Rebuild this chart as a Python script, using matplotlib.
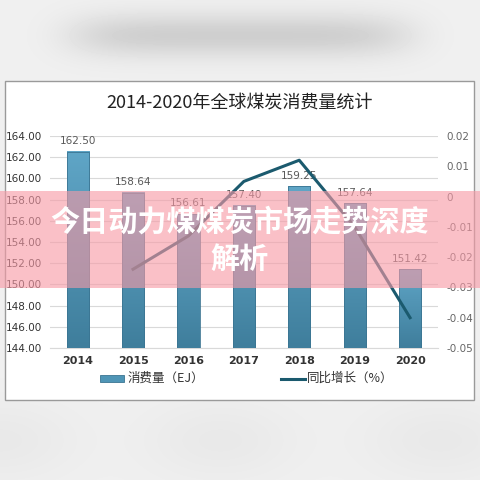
import numpy as np
import matplotlib
matplotlib.use("Agg")
import matplotlib.pyplot as plt
from matplotlib.patches import Rectangle
from matplotlib.lines import Line2D
from matplotlib.colors import LinearSegmentedColormap

plt.rcParams['font.family'] = ['Noto Sans CJK SC', 'DejaVu Sans']

years = ["2014", "2015", "2016", "2017", "2018", "2019", "2020"]
consumption = [162.50, 158.64, 156.61, 157.40, 159.25, 157.64, 151.42]
growth_years = ["2015", "2016", "2017", "2018", "2019", "2020"]
growth = [-0.024, -0.013, 0.005, 0.012, -0.010, -0.040]
left_ticks = [144, 146, 148, 150, 152, 154, 156, 158, 160, 162, 164]
right_ticks = [-0.05, -0.04, -0.03, -0.02, -0.01, 0.0, 0.01, 0.02]
right_labels = ["-0.05", "-0.04", "-0.03", "-0.02", "-0.01", "0", "0.01", "0.02"]

title = "2014-2020年全球煤炭消费量统计"
banner_lines = ["今日动力煤煤炭市场走势深度", "解析"]

fig = plt.figure(figsize=(4.8, 4.8), dpi=100)
fig.patch.set_facecolor("#efefef")

# blurred screenshot background
bg = fig.add_axes([0, 0, 1, 1])
yy, xx = np.mgrid[0:480, 0:480]
band = np.exp(-((yy - 35) / 22.0) ** 2) * np.exp(-((xx - 240) / 170.0) ** 6)
low = np.exp(-((yy - 440) / 40.0) ** 2) * 0.35 * (0.6 + 0.4 * np.cos(xx / 35.0))
img = 0.94 - 0.13 * band - 0.08 * low
bg.imshow(img, cmap="gray", vmin=0, vmax=1, extent=[0, 480, 480, 0], aspect="auto")
bg.set_xlim(0, 480); bg.set_ylim(480, 0); bg.axis("off")

# white chart card
card = fig.add_axes([0, 0, 1, 1], facecolor="none")
card.set_xlim(0, 480); card.set_ylim(480, 0); card.axis("off")
card.add_patch(Rectangle((5, 81), 469, 319, facecolor="white", edgecolor="#9a9a9a", lw=1))
card.text(240, 103, title, ha="center", va="center", fontsize=13, color="#222222")

ax = fig.add_axes([0.104, 0.275, 0.808, 0.4417])
x = np.arange(len(years))
bars = ax.bar(x, [v - 144 for v in consumption], bottom=144, width=0.4,
              color="#4f95b6", edgecolor="#3b7592", lw=0.6, zorder=3)
# vertical gradient on bars
grad = np.linspace(0, 1, 100).reshape(-1, 1)
cm = LinearSegmentedColormap.from_list("b", ["#3f7e9c", "#5fa5c6"])
for b in bars:
    bx, by = b.get_x(), b.get_y()
    ax.imshow(grad, cmap=cm, origin="lower", aspect="auto", zorder=3,
              extent=[bx, bx + b.get_width(), by, by + b.get_height()])
    b.set_facecolor("none"); b.set_zorder(4)
for xi, v in zip(x, consumption):
    ax.text(xi, v + 0.55, f"{v:.2f}", ha="center", va="bottom", fontsize=7.5,
            color="#595959", family="DejaVu Sans")
ax.set_xlim(-0.5, len(years) - 0.5)
ax.set_ylim(144, 164)
ax.set_yticks(left_ticks)
ax.set_yticklabels([f"{t:.2f}" for t in left_ticks], fontsize=7.5, color="#333333",
                   family="DejaVu Sans")
ax.set_xticks(x)
ax.set_xticklabels(years, fontsize=8, fontweight="bold", color="#333333", family="DejaVu Sans")
ax.tick_params(length=0, pad=6)
ax.grid(axis="y", color="#d9d9d9", lw=0.8, zorder=0)
for s in ax.spines.values():
    s.set_visible(False)
ax.spines["bottom"].set_visible(True); ax.spines["bottom"].set_color("#d9d9d9")

ax2 = ax.twinx()
gx = [years.index(g) for g in growth_years]
ax2.plot(gx, growth, color="#1b5a6e", lw=2.2, zorder=5)
ax2.set_ylim(-0.05, 0.02)
ax2.set_yticks(right_ticks)
ax2.set_yticklabels(right_labels, fontsize=7.5, color="#666666", family="DejaVu Sans")
ax2.tick_params(length=0, pad=6)
for s in ax2.spines.values():
    s.set_visible(False)
ax2.set_xlim(-0.5, len(years) - 0.5)

# legend
card.add_patch(Rectangle((100, 375), 24, 7, facecolor="#4f95b6", edgecolor="#3b7592", lw=0.6))
card.text(128, 378.5, "消费量（EJ）", va="center", fontsize=9, color="#333333")
card.add_line(Line2D([281, 305], [378.5, 378.5], color="#1b5a6e", lw=2.2))
card.text(307, 378.5, "同比增长（%）", va="center", fontsize=9, color="#333333")

# pink banner overlay
top = fig.add_axes([0, 0, 1, 1], facecolor="none")
top.set_xlim(0, 480); top.set_ylim(480, 0); top.axis("off")
top.add_patch(Rectangle((0, 191), 480, 97, facecolor="#f79aa6", alpha=0.62, lw=0))
for yl, line in zip([222, 259], banner_lines):
    top.text(240, yl, line, ha="center", va="center", fontsize=21, fontweight="bold",
             color="white")

fig.savefig("out.png", dpi=100)
